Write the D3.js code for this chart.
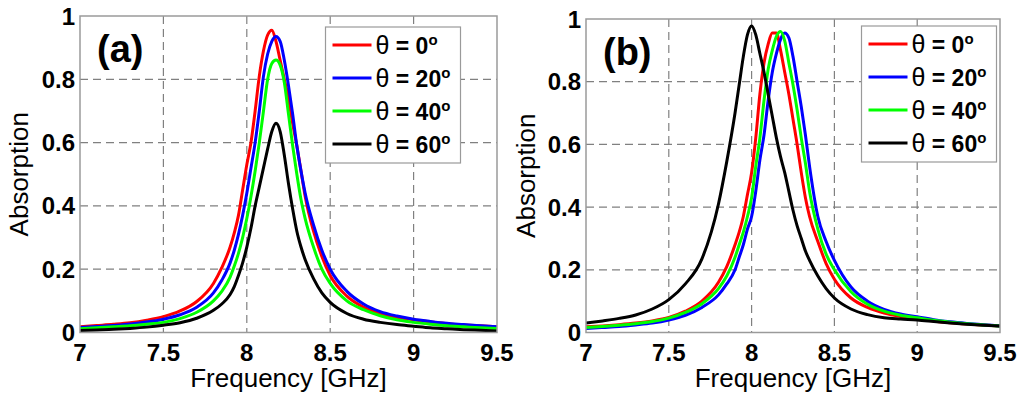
<!DOCTYPE html>
<html>
<head>
<meta charset="utf-8">
<script src="https://cdn.jsdelivr.net/npm/d3@7"></script>
<style>
  body { margin: 0; background: #fff; }
  svg { display: block; font-family: "Liberation Sans", Arial, sans-serif; }
</style>
</head>
<body>
<svg id="chart" width="1024" height="397"></svg>
<script>
// frequency samples (GHz) shared by every curve
var freq = [7.0, 7.1, 7.2, 7.3, 7.4, 7.5, 7.6, 7.7, 7.8, 7.85, 7.9, 7.925, 7.95, 7.975,
  8.0, 8.025, 8.05, 8.075, 8.1, 8.125, 8.15, 8.175, 8.2, 8.225, 8.25, 8.275, 8.3, 8.325,
  8.35, 8.4, 8.45, 8.5, 8.6, 8.7, 8.8, 8.9, 9.0, 9.1, 9.2, 9.3, 9.4, 9.5];

// panel (a)
var absA0 = [0.018, 0.022, 0.026, 0.031, 0.039, 0.050, 0.068, 0.098, 0.155, 0.205, 0.27, 0.315, 0.37, 0.45,
  0.53, 0.60, 0.70, 0.81, 0.89, 0.94, 0.955, 0.92, 0.86, 0.80, 0.74, 0.66, 0.59, 0.51,
  0.43, 0.32, 0.24, 0.18, 0.115, 0.08, 0.06, 0.048, 0.04, 0.033, 0.028, 0.024, 0.021, 0.018];
var absA20 = [0.016, 0.019, 0.022, 0.027, 0.033, 0.042, 0.056, 0.08, 0.125, 0.165, 0.22, 0.26, 0.31, 0.37,
  0.44, 0.52, 0.60, 0.70, 0.81, 0.88, 0.92, 0.935, 0.92, 0.86, 0.78, 0.69, 0.59, 0.51,
  0.44, 0.34, 0.26, 0.20, 0.13, 0.09, 0.066, 0.052, 0.042, 0.035, 0.029, 0.025, 0.021, 0.018];
var absA40 = [0.012, 0.015, 0.018, 0.021, 0.026, 0.032, 0.044, 0.064, 0.10, 0.13, 0.175, 0.21, 0.25, 0.30,
  0.36, 0.43, 0.51, 0.60, 0.70, 0.80, 0.85, 0.861, 0.845, 0.79, 0.69, 0.59, 0.50, 0.42,
  0.36, 0.27, 0.20, 0.155, 0.10, 0.072, 0.053, 0.04, 0.032, 0.026, 0.021, 0.018, 0.015, 0.013];
var absA60 = [0.006, 0.008, 0.010, 0.013, 0.017, 0.023, 0.031, 0.045, 0.07, 0.09, 0.12, 0.145, 0.18, 0.22,
  0.27, 0.33, 0.40, 0.46, 0.52, 0.58, 0.635, 0.661, 0.635, 0.56, 0.47, 0.39, 0.32, 0.27,
  0.23, 0.17, 0.125, 0.095, 0.06, 0.042, 0.032, 0.025, 0.02, 0.015, 0.012, 0.009, 0.007, 0.005];

// panel (b)
var absB0 = [0.018, 0.021, 0.025, 0.030, 0.037, 0.048, 0.068, 0.10, 0.16, 0.21, 0.28, 0.32, 0.37, 0.44,
  0.51, 0.62, 0.76, 0.86, 0.92, 0.955, 0.955, 0.90, 0.83, 0.76, 0.68, 0.60, 0.51, 0.43,
  0.37, 0.29, 0.22, 0.17, 0.11, 0.08, 0.062, 0.051, 0.044, 0.037, 0.031, 0.027, 0.024, 0.021];
var absB20 = [0.013, 0.016, 0.019, 0.024, 0.030, 0.040, 0.055, 0.08, 0.12, 0.155, 0.20, 0.24, 0.28, 0.33,
  0.37, 0.45, 0.55, 0.63, 0.74, 0.83, 0.89, 0.935, 0.955, 0.94, 0.88, 0.80, 0.72, 0.63,
  0.53, 0.37, 0.29, 0.23, 0.145, 0.10, 0.074, 0.059, 0.05, 0.041, 0.034, 0.029, 0.025, 0.021];
var absB40 = [0.016, 0.019, 0.023, 0.028, 0.035, 0.046, 0.064, 0.092, 0.14, 0.18, 0.24, 0.28, 0.32, 0.37,
  0.43, 0.53, 0.62, 0.74, 0.84, 0.90, 0.945, 0.96, 0.93, 0.86, 0.79, 0.71, 0.62, 0.54,
  0.45, 0.33, 0.25, 0.20, 0.13, 0.09, 0.068, 0.055, 0.047, 0.039, 0.033, 0.028, 0.024, 0.021];
var absB60 = [0.030, 0.037, 0.045, 0.056, 0.075, 0.105, 0.155, 0.235, 0.41, 0.545, 0.70, 0.79, 0.88, 0.95,
  0.978, 0.95, 0.89, 0.83, 0.76, 0.69, 0.62, 0.56, 0.51, 0.45, 0.39, 0.34, 0.30, 0.26,
  0.23, 0.18, 0.14, 0.11, 0.075, 0.057, 0.047, 0.043, 0.04, 0.035, 0.03, 0.026, 0.023, 0.021];

var angles = [0, 20, 40, 60];
var lineColors = ["#ff0000", "#0000ff", "#00ff00", "#000000"];
var xTicks = [7, 7.5, 8, 8.5, 9, 9.5];
var yTicks = [0, 0.2, 0.4, 0.6, 0.8, 1];

var svg = d3.select("#chart");

//Draws one panel; box is the plot area in pixels, legend is placed inside
function drawPanel(p) {
  var x = d3.scaleLinear().domain([7, 9.5]).range([p.left, p.right]);
  var y = d3.scaleLinear().domain([0, 1]).range([p.bottom, p.top]);
  var g = svg.append("g");

  var clipId = "clip-" + p.name;
  g.append("clipPath").attr("id", clipId)
    .append("rect")
    .attr("x", p.left).attr("y", p.top)
    .attr("width", p.right - p.left).attr("height", p.bottom - p.top);

  //Grid lines (dashed)
  g.selectAll(".vgrid").data(xTicks.slice(1, -1)).enter().append("line")
    .attr("x1", d => x(d)).attr("x2", d => x(d))
    .attr("y1", p.top).attr("y2", p.bottom)
    .attr("stroke", "#808080").attr("stroke-width", 1.2)
    .attr("stroke-dasharray", "8,5");
  g.selectAll(".hgrid").data(yTicks.slice(1, -1)).enter().append("line")
    .attr("y1", d => y(d)).attr("y2", d => y(d))
    .attr("x1", p.left).attr("x2", p.right)
    .attr("stroke", "#808080").attr("stroke-width", 1.2)
    .attr("stroke-dasharray", "8,5");

  //Curves
  var line = d3.line()
    .x((d, i) => x(freq[i]))
    .y(d => y(d))
    .curve(d3.curveMonotoneX);
  g.append("g").attr("clip-path", "url(#" + clipId + ")")
    .selectAll("path").data(p.series).enter().append("path")
    .attr("d", line)
    .attr("fill", "none")
    .attr("stroke", (d, i) => lineColors[i])
    .attr("stroke-width", 3)
    .attr("stroke-linejoin", "round");

  //Frame
  g.append("rect")
    .attr("x", p.left).attr("y", p.top)
    .attr("width", p.right - p.left).attr("height", p.bottom - p.top)
    .attr("fill", "none").attr("stroke", "#9a9a9a").attr("stroke-width", 1.5);

  //Tick labels
  g.selectAll(".xt").data(xTicks).enter().append("text")
    .attr("x", d => x(d)).attr("y", p.bottom + 28)
    .attr("text-anchor", "middle")
    .attr("font-size", 24).attr("font-weight", "bold")
    .text(d => d);
  g.selectAll(".yt").data(yTicks).enter().append("text")
    .attr("x", p.left - 5).attr("y", d => y(d) + 8.5)
    .attr("text-anchor", "end")
    .attr("font-size", 24).attr("font-weight", "bold")
    .text(d => d);

  //Axis labels
  g.append("text")
    .attr("x", (p.left + p.right) / 2).attr("y", 387)
    .attr("text-anchor", "middle").attr("font-size", 26)
    .text("Frequency [GHz]");
  g.append("text")
    .attr("transform", "translate(" + p.ylabelX + "," + (p.top + p.bottom) / 2 + ") rotate(-90)")
    .attr("text-anchor", "middle").attr("font-size", 26)
    .text("Absorption");

  //Panel tag
  g.append("text")
    .attr("x", p.left + 17).attr("y", p.top + 46)
    .attr("font-size", 38).attr("font-weight", "bold")
    .text(p.tag);

  //Legend
  var lg = g.append("g").attr("transform", "translate(" + p.legX + "," + p.legY + ")");
  lg.append("rect")
    .attr("width", 135).attr("height", 136)
    .attr("fill", "#fff").attr("stroke", "#9a9a9a").attr("stroke-width", 1.2);
  var rows = lg.selectAll(".row").data(angles).enter().append("g")
    .attr("transform", (d, i) => "translate(0," + (18 + i * 33) + ")");
  rows.append("line")
    .attr("x1", 7).attr("x2", 46)
    .attr("stroke", (d, i) => lineColors[i]).attr("stroke-width", 3);
  var t = rows.append("text")
    .attr("x", 50).attr("y", 8.5)
    .attr("font-size", 23).attr("font-weight", "bold");
  t.append("tspan").attr("font-weight", "normal").attr("font-size", 25).text("θ");
  t.append("tspan").text(d => " = " + d);
  t.append("tspan").attr("font-size", 15).attr("dy", -9).text("o");
}

drawPanel({
  name: "a", tag: "(a)", left: 80, right: 497, top: 16, bottom: 332.5,
  ylabelX: 28, legX: 325.5, legY: 27,
  series: [absA0, absA20, absA40, absA60]
});
drawPanel({
  name: "b", tag: "(b)", left: 586, right: 1000, top: 19, bottom: 332.5,
  ylabelX: 535, legX: 861.5, legY: 26,
  series: [absB0, absB20, absB40, absB60]
});
</script>
</body>
</html>
